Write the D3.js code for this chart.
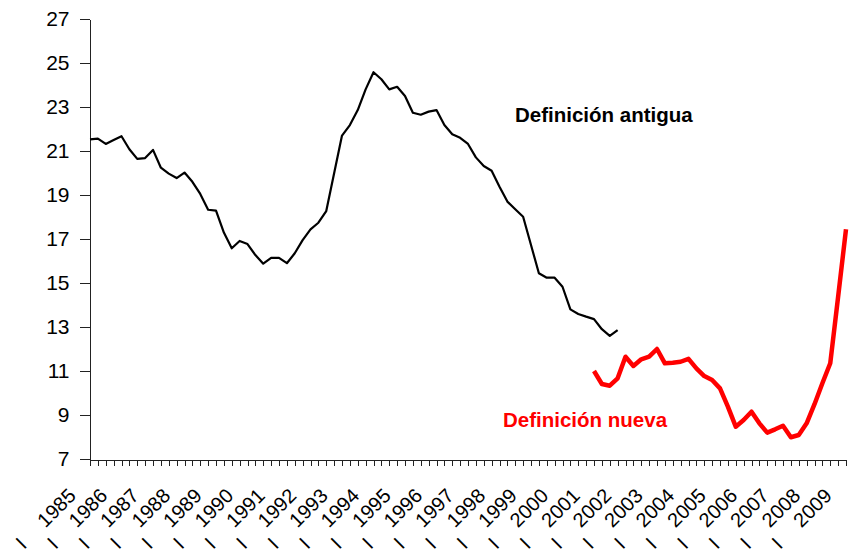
<!DOCTYPE html>
<html>
<head>
<meta charset="utf-8">
<script src="https://cdn.jsdelivr.net/npm/d3@7"></script>
<style>
  body { margin: 0; background: #fff; }
  svg { display: block; font-family: 'Liberation Sans', Arial, sans-serif; }
</style>
</head>
<body>
<div id="chart"></div>
<script>
// Plot constants
let width = 858
let height = 549
let margin = {t: 19, r: 12, b: 90, l: 90}

// Years and quarters on the category axis (1985 I .. 2009 I)
let years = [1985, 1986, 1987, 1988, 1989, 1990, 1991, 1992, 1993, 1994, 1995, 1996,
  1997, 1998, 1999, 2000, 2001, 2002, 2003, 2004, 2005, 2006, 2007, 2008, 2009]
let quarters = ['I', 'II', 'III', 'IV']
let lastCategory = '2009 I'

// Y axis ticks
let yTicks = [7, 9, 11, 13, 15, 17, 19, 21, 23, 25, 27]

// Old definition, quarterly from 1985 I
let oldStart = '1985 I'
let oldValues = [
  21.53, 21.56, 21.32, 21.5, 21.67, 21.08, 20.64, 20.68, 21.05, 20.24,
  19.97, 19.77, 20.02, 19.6, 19.05, 18.33, 18.29, 17.29, 16.58, 16.91,
  16.77, 16.27, 15.88, 16.14, 16.14, 15.9, 16.35, 16.95, 17.44, 17.74,
  18.27, 19.99, 21.7, 22.18, 22.86, 23.8, 24.58, 24.26, 23.8, 23.92,
  23.5, 22.74, 22.65, 22.79, 22.86, 22.18, 21.76, 21.6, 21.32, 20.71,
  20.32, 20.1, 19.38, 18.7, 18.35, 18.01, 16.73, 15.44, 15.24, 15.24,
  14.83, 13.8, 13.59, 13.47, 13.36, 12.9, 12.6, 12.86
]

// New definition, quarterly from 2001 I
let newStart = '2001 I'
let newValues = [
  11.0, 10.41, 10.33, 10.67, 11.65, 11.23, 11.53, 11.65, 12.0, 11.35,
  11.38, 11.42, 11.55, 11.12, 10.77, 10.59, 10.21, 9.38, 8.47, 8.77,
  9.15, 8.62, 8.2, 8.35, 8.51, 7.99, 8.09, 8.62, 9.49, 10.44,
  11.35, 14.38, 17.44
]

// Build category list
let categories = []
years.forEach(function(yr) {
  quarters.forEach(function(q) {
    if (categories.indexOf(lastCategory) < 0) { categories.push(yr + ' ' + q) }
  })
})

function toSeries(start, values) {
  let i0 = categories.indexOf(start)
  return values.map(function(v, i) { return {cat: categories[i0 + i], value: v} })
}

let svg = d3.select('#chart')
  .append('svg')
  .attr('width', width)
  .attr('height', height)

let x = d3.scalePoint()
  .domain(categories)
  .range([margin.l, width - margin.r])

let y = d3.scaleLinear()
  .domain([7, 27])
  .range([height - margin.b, margin.t])

// Y axis
let yAxis = svg.append('g')
  .attr('transform', `translate(${margin.l - 0.5}, 0)`)
  .call(d3.axisLeft(y).tickValues(yTicks).tickSize(10).tickSizeOuter(0).tickPadding(10))
yAxis.selectAll('path, line').attr('stroke', '#222').attr('shape-rendering', 'crispEdges')
yAxis.selectAll('text')
  .attr('font-size', '21px')
  .attr('fill', '#000')
  .attr('font-family', "'Liberation Sans', Arial, sans-serif")

// X axis (quarterly ticks, labels only on first quarter)
let xAxis = svg.append('g')
  .attr('transform', `translate(0, ${height - margin.b + 0.5})`)
  .call(d3.axisBottom(x).tickSize(6).tickSizeOuter(0).tickFormat(''))
xAxis.selectAll('path, line').attr('stroke', '#222').attr('shape-rendering', 'crispEdges')

let labelCats = categories.filter(function(c) { return c.split(' ')[1] == 'I' })
let labels = svg.append('g')
  .selectAll('text')
  .data(labelCats)
  .enter().append('text')
  .attr('transform', function(d) { return `translate(${x(d) - 13}, 497) rotate(-45)` })
  .attr('text-anchor', 'end')
  .attr('font-size', '20px')
  .attr('fill', '#000')
labels.append('tspan').text(function(d) { return d.split(' ')[1] })
labels.append('tspan').attr('dx', 25).text(function(d) { return d.split(' ')[0] })

// Lines
let line = d3.line()
  .x(function(d) { return x(d.cat) })
  .y(function(d) { return y(d.value) })

svg.append('path')
  .datum(toSeries(oldStart, oldValues))
  .attr('d', line)
  .attr('fill', 'none')
  .attr('stroke', '#000')
  .attr('stroke-width', 2.2)
  .attr('stroke-linejoin', 'round')

svg.append('path')
  .datum(toSeries(newStart, newValues))
  .attr('d', line)
  .attr('fill', 'none')
  .attr('stroke', '#ff0000')
  .attr('stroke-width', 4.5)
  .attr('stroke-linejoin', 'round')

// Series annotations
svg.append('text')
  .attr('x', 515)
  .attr('y', 122)
  .attr('font-size', '20.5px')
  .attr('font-weight', 'bold')
  .attr('fill', '#000')
  .text('Definición antigua')

svg.append('text')
  .attr('x', 503)
  .attr('y', 427)
  .attr('font-size', '20.5px')
  .attr('font-weight', 'bold')
  .attr('fill', '#ff0000')
  .text('Definición nueva')
</script>
</body>
</html>
